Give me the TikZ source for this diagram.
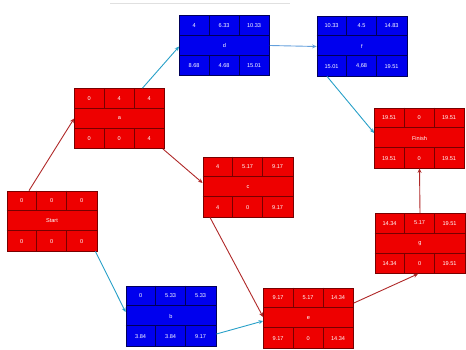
\documentclass[tikz,border=0pt]{standalone}
\usepackage{fontspec}
\setmainfont{Liberation Sans}
\usetikzlibrary{calc,arrows.meta}
\definecolor{rfill}{RGB}{238,0,0}
\definecolor{rline}{RGB}{120,0,0}
\definecolor{bfill}{RGB}{0,0,238}
\definecolor{bline}{RGB}{0,0,90}
\definecolor{redge}{RGB}{175,40,40}
\definecolor{cedge}{RGB}{40,160,200}
\definecolor{ledge}{RGB}{100,160,220}
\tikzset{
  x=1pt, y=1pt,
  box/.style={rectangle, minimum width=90pt, minimum height=60pt, inner sep=0pt, line width=0.8pt},
  redbox/.style={box, fill=rfill, draw=rline},
  bluebox/.style={box, fill=bfill, draw=bline},
  lbl/.style={text=white, font=\fontsize{5.6}{6.5}\selectfont, inner sep=0pt},
  conn/.style={line width=0.9pt, -{Stealth[length=4.5pt,width=4pt]}},
  redconn/.style={conn, draw=redge},
  cyanconn/.style={conn, draw=cedge},
  lightconn/.style={conn, draw=ledge},
}
\newcommand\pbox[7]{% name, center, style, grid colour, top values, label, bottom values
  \node[#3] (#1) at (#2) {};
  \draw[#4, line width=0.8pt] ($(#1.north west)+(0,-20)$) -- ($(#1.north east)+(0,-20)$);
  \draw[#4, line width=0.8pt] ($(#1.north west)+(0,-40)$) -- ($(#1.north east)+(0,-40)$);
  \foreach \k in {30,60} {
    \draw[#4, line width=0.8pt] ($(#1.north west)+(\k,0)$) -- ($(#1.north west)+(\k,-20)$);
    \draw[#4, line width=0.8pt] ($(#1.south west)+(\k,0)$) -- ($(#1.south west)+(\k,20)$);
  }
  \node[lbl] (#1-l) at (#1.center) {#6};
  \foreach \v [count=\i] in {#5} \node[lbl] (#1-t\i) at ($(#1.north west)+(\i*30-15,-10)$) {\v};
  \foreach \v [count=\i] in {#7} \node[lbl] (#1-b\i) at ($(#1.south west)+(\i*30-15,10)$) {\v};
}
\begin{document}
\begin{tikzpicture}
\useasboundingbox (0,0) rectangle (466,-350);
\coordinate (tl) at (110,-3);
\coordinate (tr) at (290,-3);
\draw[black!12, line width=0.5pt] (tl) -- (tr);

\pbox{Start}{52,-221}{redbox}{rline}{0,0,0}{Start}{0,0,0}
\pbox{a}{119.5,-118.5}{redbox}{rline}{0,4,4}{a}{0,0,4}
\pbox{d}{224.5,-45.5}{bluebox}{bline}{4,6.33,10.33}{d}{8.68,4.68,15.01}
\pbox{f}{362,-46}{bluebox}{bline}{10.33,4.5,14.83}{f}{15.01,{4,68},19.51}
\pbox{Finish}{419.5,-138}{redbox}{rline}{19.51,0,19.51}{Finish}{19.51,0,19.51}
\pbox{c}{248,-187}{redbox}{rline}{4,5.17,9.17}{c}{4,0,9.17}
\pbox{g}{420,-243.5}{redbox}{rline}{14.34,5.17,19.51}{g}{14.34,0,19.51}
\pbox{b}{171,-316}{bluebox}{bline}{0,5.33,5.33}{b}{3.84,3.84,9.17}
\pbox{e}{308.5,-318}{redbox}{rline}{9.17,5.17,14.34}{e}{9.17,0,14.34}

\draw[redconn] ([xshift=-23pt]Start.north) -- (a.west);
\draw[cyanconn] ([xshift=-2pt]Start.south east) -- ([yshift=4pt]b.west);
\draw[cyanconn] ([xshift=23pt]a.north) -- ([yshift=-1pt]d.west);
\draw[redconn] ([xshift=-2pt]a.south east) -- ([yshift=4pt]c.west);
\draw[lightconn] (d.east) -- ([yshift=-0.5pt]f.west);
\draw[cyanconn] ([xshift=-35pt]f.south) -- ([yshift=5pt]Finish.west);
\draw[redconn] ([xshift=-38pt]c.south) -- ([yshift=1pt]e.west);
\draw[cyanconn] ([yshift=-18pt]b.east) -- ([yshift=-3pt]e.west);
\draw[redconn] ([yshift=15pt]e.east) -- ([xshift=-2pt]g.south);
\draw[redconn] (g.north) -- (Finish.south);
\end{tikzpicture}
\end{document}
